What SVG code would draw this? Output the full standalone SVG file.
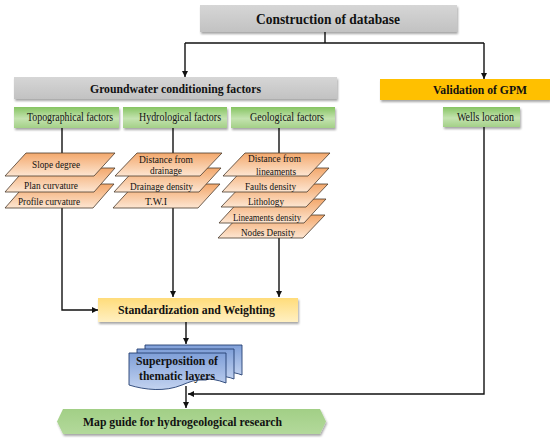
<svg xmlns="http://www.w3.org/2000/svg" width="550" height="440" viewBox="0 0 550 440" font-family="'Liberation Serif', 'Times New Roman', serif">
<defs>
<linearGradient id="gGray" x1="0" y1="0" x2="0" y2="1"><stop offset="0" stop-color="#d6d6d6"/><stop offset="1" stop-color="#c2c2c2"/></linearGradient>
<linearGradient id="gGreen" x1="0" y1="0" x2="0" y2="1"><stop offset="0" stop-color="#86c462"/><stop offset="0.55" stop-color="#c4e3b0"/><stop offset="1" stop-color="#a3d087"/></linearGradient>
<linearGradient id="gYellow" x1="0" y1="0" x2="0" y2="1"><stop offset="0" stop-color="#ffdc7a"/><stop offset="1" stop-color="#fff0c2"/></linearGradient>
<linearGradient id="gOrange" x1="0" y1="0" x2="0" y2="1"><stop offset="0" stop-color="#f3a86c"/><stop offset="1" stop-color="#fde6d2"/></linearGradient>
<linearGradient id="gBlue" x1="0" y1="0" x2="0" y2="1"><stop offset="0" stop-color="#7f9fd8"/><stop offset="1" stop-color="#c3d3f0"/></linearGradient>
<linearGradient id="gMap" x1="0" y1="0" x2="0" y2="1"><stop offset="0" stop-color="#a2cf86"/><stop offset="1" stop-color="#b3d99b"/></linearGradient>
<filter id="sh" x="-10%" y="-30%" width="120%" height="170%"><feDropShadow dx="1" dy="2" stdDeviation="1.2" flood-color="#000" flood-opacity="0.35"/></filter>
<marker id="arr" viewBox="0 0 10 10" refX="10" refY="5" markerWidth="6" markerHeight="6" orient="auto" markerUnits="userSpaceOnUse"><path d="M0,0 L10,5 L0,10 Z" fill="#111"/></marker>
<style>
.t{font-family:"Liberation Serif","Times New Roman",serif;fill:#111;}
.b{font-weight:bold;}
.c{stroke:#111;stroke-width:1.4;fill:none;}
.para{fill:url(#gOrange);stroke:#4a3a2c;stroke-width:0.8;}
.fac{fill:url(#gGreen);filter:url(#sh);}
.doc{fill:url(#gBlue);stroke:#243f73;stroke-width:0.9;}
</style>
</defs>

<g id="connectors">
<path class="c" d="M325,32 V43"/>
<path class="c" d="M185,43 H484"/>
<path class="c" d="M185,43 V77" marker-end="url(#arr)"/>
<path class="c" d="M484,43 V79" marker-end="url(#arr)"/>
<path class="c" d="M62,128 V310 H98" marker-end="url(#arr)"/>
<path class="c" d="M173,128 V297" marker-end="url(#arr)"/>
<path class="c" d="M279,128 V297" marker-end="url(#arr)"/>
<path class="c" d="M186,322 V344" marker-end="url(#arr)"/>
<path class="c" d="M186,386 V408" marker-end="url(#arr)"/>
<path class="c" d="M484,127 V394 H188" marker-end="url(#arr)"/>
</g>

<g id="construction">
<rect x="200" y="5" width="257" height="27" fill="url(#gGray)" filter="url(#sh)"/>
<text class="t b" x="328" y="24" font-size="15.5" text-anchor="middle" textLength="144" lengthAdjust="spacingAndGlyphs">Construction of database</text>
</g>

<g id="groundwater">
<rect x="14" y="77" width="323" height="22" fill="url(#gGray)" filter="url(#sh)"/>
<text class="t b" x="175.5" y="93" font-size="13.5" text-anchor="middle" textLength="171" lengthAdjust="spacingAndGlyphs">Groundwater conditioning factors</text>
</g>

<g id="validation">
<rect x="380" y="79" width="170" height="21" fill="#ffc000" filter="url(#sh)"/>
<text class="t b" x="480" y="94" font-size="13.5" text-anchor="middle" textLength="94" lengthAdjust="spacingAndGlyphs">Validation of GPM</text>
</g>

<g id="topographical">
<rect class="fac" x="14" y="107" width="105" height="21"/>
<text class="t" x="70" y="121" font-size="11.5" text-anchor="middle" textLength="86" lengthAdjust="spacingAndGlyphs">Topographical factors</text>
</g>
<g id="hydrological">
<rect class="fac" x="123" y="107" width="104" height="21"/>
<text class="t" x="180" y="121" font-size="11.5" text-anchor="middle" textLength="82" lengthAdjust="spacingAndGlyphs">Hydrological factors</text>
</g>
<g id="geological">
<rect class="fac" x="231" y="107" width="104" height="21"/>
<text class="t" x="287" y="121" font-size="11.5" text-anchor="middle" textLength="74" lengthAdjust="spacingAndGlyphs">Geological factors</text>
</g>
<g id="wells">
<rect class="fac" x="443" y="107" width="77" height="20"/>
<text class="t" x="485.5" y="121" font-size="11.5" text-anchor="middle" textLength="57" lengthAdjust="spacingAndGlyphs">Wells location</text>
</g>

<g id="profile-curvature">
<polygon class="para" points="26,184 114,184 93,208 5,208"/>
<text class="t" x="49" y="205" font-size="10.5" text-anchor="middle" textLength="62" lengthAdjust="spacingAndGlyphs">Profile curvature</text>
</g>
<g id="plan-curvature">
<polygon class="para" points="26,168 115,168 94,192 5,192"/>
<text class="t" x="51" y="189" font-size="10.5" text-anchor="middle" textLength="54" lengthAdjust="spacingAndGlyphs">Plan curvature</text>
</g>
<g id="slope-degree">
<polygon class="para" points="26,153 115,153 94,176 5,176"/>
<text class="t" x="56" y="168" font-size="10.5" text-anchor="middle" textLength="48" lengthAdjust="spacingAndGlyphs">Slope degree</text>
</g>

<g id="twi">
<polygon class="para" points="135,184 220,184 198,208 113,208"/>
<text class="t" x="156" y="205" font-size="10.5" text-anchor="middle" textLength="22" lengthAdjust="spacingAndGlyphs">T.W.I</text>
</g>
<g id="drainage-density">
<polygon class="para" points="136,168 221,168 199,192 114,192"/>
<text class="t" x="161.5" y="190" font-size="10.5" text-anchor="middle" textLength="63" lengthAdjust="spacingAndGlyphs">Drainage density</text>
</g>
<g id="distance-drainage">
<polygon class="para" points="137,153 222,153 200,176 115,176"/>
<text class="t" x="166" y="163" font-size="10.5" text-anchor="middle" textLength="54" lengthAdjust="spacingAndGlyphs">Distance from</text>
<text class="t" x="166" y="174" font-size="10.5" text-anchor="middle" textLength="32" lengthAdjust="spacingAndGlyphs">drainage</text>
</g>

<g id="nodes-density">
<polygon class="para" points="240,215 325,215 303,238 218,238"/>
<text class="t" x="268" y="236" font-size="10.5" text-anchor="middle" textLength="54" lengthAdjust="spacingAndGlyphs">Nodes Density</text>
</g>
<g id="lineaments-density">
<polygon class="para" points="241,199 326,199 304,223 219,223"/>
<text class="t" x="267" y="221" font-size="10.5" text-anchor="middle" textLength="68" lengthAdjust="spacingAndGlyphs">Lineaments density</text>
</g>
<g id="lithology">
<polygon class="para" points="243,184 328,184 306,207 221,207"/>
<text class="t" x="266" y="205" font-size="10.5" text-anchor="middle" textLength="36" lengthAdjust="spacingAndGlyphs">Lithology</text>
</g>
<g id="faults-density">
<polygon class="para" points="244,168 329,168 307,192 222,192"/>
<text class="t" x="270.5" y="190" font-size="10.5" text-anchor="middle" textLength="51" lengthAdjust="spacingAndGlyphs">Faults density</text>
</g>
<g id="distance-lineaments">
<polygon class="para" points="245,153 330,153 308,176 223,176"/>
<text class="t" x="274.5" y="162" font-size="10.5" text-anchor="middle" textLength="53" lengthAdjust="spacingAndGlyphs">Distance from</text>
<text class="t" x="276" y="175" font-size="10.5" text-anchor="middle" textLength="40" lengthAdjust="spacingAndGlyphs">lineaments</text>
</g>

<g id="standardization">
<rect x="98" y="298" width="200" height="24" fill="url(#gYellow)" filter="url(#sh)"/>
<text class="t b" x="196.5" y="314" font-size="13" text-anchor="middle" textLength="157" lengthAdjust="spacingAndGlyphs">Standardization and Weighting</text>
</g>

<g id="superposition">
<path class="doc" d="M145,345 H242 V375 C232,371 222,372 214,376 L145,376 Z"/>
<path class="doc" d="M137,349 H234 V379 C224,375 214,376 206,380 L137,380 Z"/>
<path class="doc" d="M129,353 H226 V383 C208,376 196,379 182,385 C165,392 145,390 129,385 Z"/>
<text class="t b" x="177" y="365" font-size="13" text-anchor="middle" textLength="82" lengthAdjust="spacingAndGlyphs">Superposition of</text>
<text class="t b" x="177" y="380" font-size="13" text-anchor="middle" textLength="76" lengthAdjust="spacingAndGlyphs">thematic layers</text>
</g>

<g id="map-guide">
<polygon points="57,421.5 63,409 320,409 326,421.5 320,434 63,434" fill="url(#gMap)" filter="url(#sh)"/>
<text class="t b" x="182.5" y="426" font-size="13" text-anchor="middle" textLength="199" lengthAdjust="spacingAndGlyphs">Map guide for hydrogeological research</text>
</g>
</svg>
